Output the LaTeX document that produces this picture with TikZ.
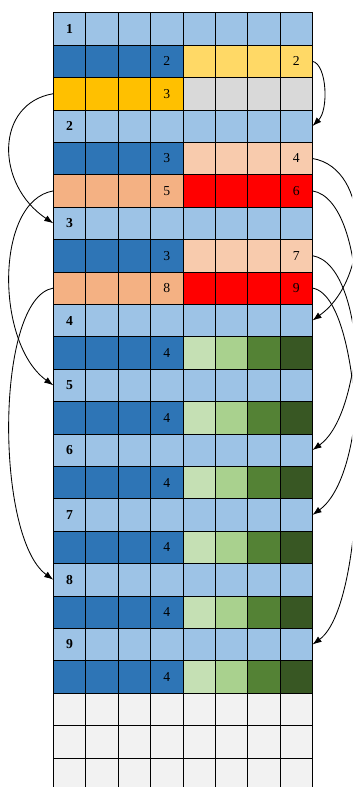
\documentclass[tikz,border=0pt]{standalone}
\usepackage{fontspec}
\setmainfont{Liberation Serif}
\usetikzlibrary{arrows.meta}
\definecolor{lb}{HTML}{9DC3E6}
\definecolor{db}{HTML}{2E75B6}
\definecolor{ly}{HTML}{FFD966}
\definecolor{gd}{HTML}{FFC000}
\definecolor{gy}{HTML}{D9D9D9}
\definecolor{pc}{HTML}{F8CBAD}
\definecolor{sa}{HTML}{F4B183}
\definecolor{rd}{HTML}{FF0000}
\definecolor{ga}{HTML}{C5E0B4}
\definecolor{gb}{HTML}{A9D18E}
\definecolor{gc}{HTML}{548235}
\definecolor{gdk}{HTML}{385723}
\definecolor{em}{HTML}{F2F2F2}
\tikzset{
  cell/.style={draw=black, line width=0.6pt, minimum size=1cm, inner sep=0pt, outer sep=0pt, rectangle},
  numlab/.style={inner sep=0pt, font=\fontsize{12}{14}\selectfont, text=black},
  boldlab/.style={numlab, font=\fontsize{12}{14}\selectfont\bfseries},
  conn/.style={draw=black, line width=0.75pt, -{Latex[length=2.8mm,width=2mm]}}
}
\begin{document}
\begin{tikzpicture}
\useasboundingbox (-1.645,0.392) rectangle (9.219,-23.898);
\clip (-1.645,0.392) rectangle (9.219,-23.898);
% light-blue header rows
\foreach \r/\lab in {1/1,4/2,7/3,10/4,12/5,14/6,16/7,18/8,20/9} {
  \foreach \c in {1,...,8}
    \node[cell, fill=lb] (c\r-\c) at (\c-0.5,-\r+0.5) {};
  \node[boldlab] (t\r) at (c\r-1) {\lab};
}
% two-colour rows
\foreach \r/\cl/\cr/\a/\b in {2/db/ly/2/2, 3/gd/gy/3/{}, 5/db/pc/3/4, 6/sa/rd/5/6, 8/db/pc/3/7, 9/sa/rd/8/9} {
  \foreach \c in {1,...,4}
    \node[cell, fill=\cl] (c\r-\c) at (\c-0.5,-\r+0.5) {};
  \foreach \c in {5,...,8}
    \node[cell, fill=\cr] (c\r-\c) at (\c-0.5,-\r+0.5) {};
  \node[numlab] (ta\r) at (c\r-4) {\a};
  \node[numlab] (tb\r) at (c\r-8) {\b};
}
% green rows
\foreach \r in {11,13,15,17,19,21} {
  \foreach \c in {1,...,4}
    \node[cell, fill=db] (c\r-\c) at (\c-0.5,-\r+0.5) {};
  \foreach \c/\col in {5/ga,6/gb,7/gc,8/gdk}
    \node[cell, fill=\col] (c\r-\c) at (\c-0.5,-\r+0.5) {};
  \node[numlab] (ta\r) at (c\r-4) {4};
}
% empty rows
\foreach \r in {22,23,24} {
  \foreach \c in {1,...,8}
    \node[cell, fill=em] (c\r-\c) at (\c-0.5,-\r+0.5) {};
}
% left connectors
\draw[conn] (c3-1.west) .. controls +(-1.8,-0.3) and +(-1.8,1.2) .. (c7-1.west);
\draw[conn] (c6-1.west) .. controls +(-1.8,-0.3) and +(-1.8,1.3) .. (c12-1.west);
\draw[conn] (c9-1.west) .. controls +(-1.8,-0.3) and +(-1.8,1.3) .. (c18-1.west);
% right connectors
\draw[conn] (c2-8.east) .. controls +(0.45,-0.1) and +(0.5,0.5) .. (c4-8.east);
\draw[conn] (c5-8.east) .. controls +(1.8,-0.3) and +(1.8,1.3) .. (c10-8.east);
\draw[conn] (c6-8.east) .. controls +(1.8,-0.3) and +(1.8,1.3) .. (c14-8.east);
\draw[conn] (c8-8.east) .. controls +(1.8,-0.3) and +(1.8,1.3) .. (c16-8.east);
\draw[conn] (c9-8.east) .. controls +(1.8,-0.3) and +(1.8,1.3) .. (c20-8.east);
\end{tikzpicture}
\end{document}
